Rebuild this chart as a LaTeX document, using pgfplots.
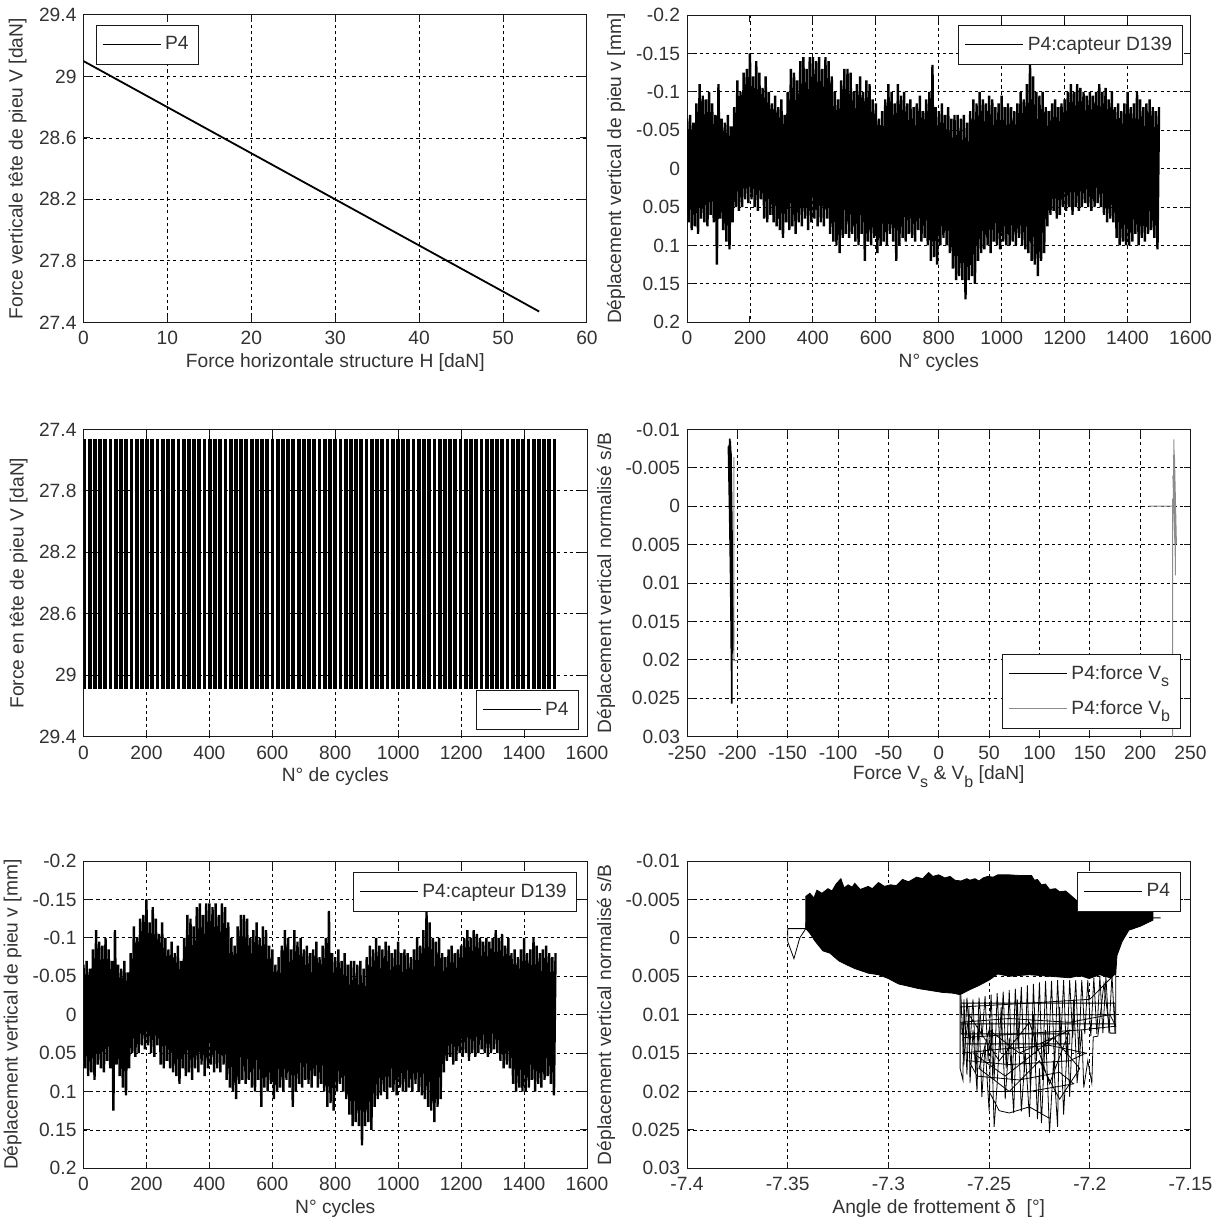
\documentclass[border=0pt]{standalone}
\usepackage{pgfplots}
\pgfplotsset{compat=1.18}
\usepackage{pgfplotstable}
\usepackage{fontspec}
\setmainfont{Liberation Sans}
\definecolor{txt}{gray}{0.2}
\definecolor{axc}{gray}{0.1}
\definecolor{gline}{gray}{0.55}
\newcommand{\sub}[1]{\raisebox{-0.7ex}{\fontsize{8}{8}\selectfont #1}}

\pgfplotstableread{
x y
0 -0.065
5 0.07
10 -0.07
15 0.08
20 -0.06
25 0.075
30 -0.085
35 0.085
40 -0.11
45 0.065
50 -0.095
55 0.07
60 -0.09
65 0.075
70 -0.1
75 0.06
80 -0.085
85 0.07
90 -0.07
95 0.125
100 -0.11
105 0.065
110 -0.065
115 0.08
120 -0.06
125 0.095
130 -0.07
135 0.105
140 -0.055
145 0.07
150 -0.08
155 0.05
160 -0.115
165 0.055
170 -0.1
175 0.05
180 -0.125
185 0.04
190 -0.13
195 0.045
200 -0.15
205 0.04
210 -0.12
215 0.05
220 -0.14
225 0.055
230 -0.125
235 0.04
240 -0.105
245 0.065
250 -0.12
255 0.07
260 -0.1
265 0.06
270 -0.085
275 0.07
280 -0.095
285 0.075
290 -0.08
295 0.08
300 -0.09
305 0.09
310 -0.07
315 0.07
320 -0.1
325 0.08
330 -0.13
335 0.075
340 -0.125
345 0.085
350 -0.115
355 0.07
360 -0.14
365 0.075
370 -0.145
375 0.065
380 -0.13
385 0.08
390 -0.145
395 0.07
400 -0.145
405 0.065
410 -0.14
415 0.075
420 -0.145
425 0.07
430 -0.13
435 0.075
440 -0.145
445 0.065
450 -0.14
455 0.085
460 -0.12
465 0.095
470 -0.1
475 0.1
480 -0.09
485 0.11
490 -0.115
495 0.09
500 -0.13
505 0.085
510 -0.13
515 0.09
520 -0.125
525 0.085
530 -0.1
535 0.095
540 -0.11
545 0.1
550 -0.12
555 0.085
560 -0.1
565 0.12
570 -0.115
575 0.095
580 -0.11
585 0.1
590 -0.09
595 0.09
600 -0.085
605 0.11
610 -0.065
615 0.1
620 -0.075
625 0.095
630 -0.09
635 0.1
640 -0.11
645 0.085
650 -0.1
655 0.095
660 -0.085
665 0.12
670 -0.11
675 0.1
680 -0.095
685 0.09
690 -0.1
695 0.095
700 -0.085
705 0.085
710 -0.09
715 0.09
720 -0.08
725 0.095
730 -0.085
735 0.08
740 -0.095
745 0.095
750 -0.075
755 0.09
760 -0.09
765 0.1
770 -0.1
775 0.12
780 -0.135
785 0.115
790 -0.08
795 0.125
800 -0.075
805 0.1
810 -0.085
815 0.09
820 -0.07
825 0.1
830 -0.08
835 0.11
840 -0.065
845 0.13
850 -0.07
855 0.145
860 -0.07
865 0.14
870 -0.065
875 0.145
880 -0.07
885 0.17
890 -0.06
895 0.145
900 -0.075
905 0.14
910 -0.09
915 0.15
920 -0.085
925 0.12
930 -0.1
935 0.11
940 -0.09
945 0.105
950 -0.085
955 0.1
960 -0.095
965 0.11
970 -0.09
975 0.095
980 -0.08
985 0.1
990 -0.085
995 0.105
1000 -0.095
1005 0.095
1010 -0.08
1015 0.1
1020 -0.085
1025 0.1
1030 -0.08
1035 0.095
1040 -0.075
1045 0.1
1050 -0.085
1055 0.09
1060 -0.1
1065 0.1
1070 -0.09
1075 0.105
1080 -0.11
1085 0.11
1090 -0.135
1095 0.12
1100 -0.12
1105 0.125
1110 -0.1
1115 0.14
1120 -0.095
1125 0.12
1130 -0.1
1135 0.11
1140 -0.08
1145 0.075
1150 -0.075
1155 0.06
1160 -0.085
1165 0.055
1170 -0.09
1175 0.065
1180 -0.08
1185 0.06
1190 -0.085
1195 0.05
1200 -0.09
1205 0.055
1210 -0.1
1215 0.05
1220 -0.11
1225 0.06
1230 -0.1
1235 0.05
1240 -0.11
1245 0.055
1250 -0.105
1255 0.05
1260 -0.1
1265 0.045
1270 -0.095
1275 0.05
1280 -0.1
1285 0.055
1290 -0.095
1295 0.05
1300 -0.1
1305 0.045
1310 -0.11
1315 0.05
1320 -0.1
1325 0.06
1330 -0.105
1335 0.07
1340 -0.09
1345 0.065
1350 -0.1
1355 0.07
1360 -0.08
1365 0.09
1370 -0.085
1375 0.1
1380 -0.075
1385 0.095
1390 -0.085
1395 0.1
1400 -0.1
1405 0.1
1410 -0.08
1415 0.095
1420 -0.085
1425 0.085
1430 -0.1
1435 0.1
1440 -0.09
1445 0.09
1450 -0.08
1455 0.095
1460 -0.085
1465 0.085
1470 -0.09
1475 0.08
1480 -0.08
1485 0.09
1490 -0.075
1495 0.105
1500 -0.08
}\dispdata

\pgfplotsset{
 mystyle/.style={
  scale only axis, width=251.75pt, height=153.65pt,
  font=\fontsize{9.6}{11}\selectfont,
  axis line style={axc, line width=0.5pt},
  tick align=inside, major tick length=3.3pt, tick style={axc, line width=0.5pt},
  grid=major, major grid style={black, line width=0.4pt, dash pattern=on 1.6pt off 1.6pt},
  extra x tick style={grid=none}, extra y tick style={grid=none},
  every tick label/.append style={txt},
  label style={txt},
  xlabel style={at={(axis description cs:0.5,-0.13)}, anchor=center},
  xticklabel style={yshift=-1pt},
  scaled ticks=false,
  legend style={draw=axc, fill=white, line width=0.5pt, font=\fontsize{9.6}{11}\selectfont, text=txt, inner xsep=3pt, inner ysep=3.6pt, cells={anchor=west}},
  legend image code/.code={\draw[#1] (0pt,0pt) -- (29pt,0pt);},
  legend image post style={line width=0.5pt},
  unbounded coords=jump,
 },
 cyc/.style={xmin=0,xmax=1600, xtick={200,400,600,800,1000,1200,1400},
  xticklabels={200,400,600,800,1000,1200,1400},
  extra x ticks={0,1600}, extra x tick labels={0,1600}},
 disp/.style={ymin=-0.2,ymax=0.2, y dir=reverse,
  ytick={-0.15,-0.1,-0.05,0,0.05,0.1,0.15},
  yticklabels={-0.15,-0.1,-0.05,0,0.05,0.1,0.15},
  extra y ticks={-0.2,0.2}, extra y tick labels={-0.2,0.2}},
 sb/.style={ymin=-0.01,ymax=0.03, y dir=reverse,
  ytick={-0.005,0,0.005,0.01,0.015,0.02,0.025},
  yticklabels={-0.005,0,0.005,0.01,0.015,0.02,0.025},
  extra y ticks={-0.01,0.03}, extra y tick labels={-0.01,0.03}},
 force/.style={
  ytick={27.8,28.2,28.6,29}, yticklabels={27.8,28.2,28.6,29},
  extra y ticks={27.4,29.4}, extra y tick labels={27.4,29.4}},
}

\begin{document}
\begin{tikzpicture}
\useasboundingbox (0,0) rectangle (612.5pt,611.5pt);

% ---------- Panel 1 ----------
\begin{axis}[mystyle, force, at={(41.75pt,450.35pt)}, anchor=south west,
 xmin=0,xmax=60, ymin=27.4,ymax=29.4,
 xtick={10,20,30,40,50}, xticklabels={10,20,30,40,50},
 extra x ticks={0,60}, extra x tick labels={0,60},
 xlabel={Force horizontale structure H [daN]},
 ylabel={Force verticale tête de pieu V [daN]},
 ylabel style={at={(axis description cs:-0.131,0.5)}, anchor=center},
 legend style={at={(0,1)}, anchor=north west, xshift=6pt, yshift=-5pt}]
\addplot[black, line width=0.9pt] coordinates {(0,29.1) (10,28.8) (20,28.5) (30,28.2) (40,27.9) (50,27.6) (54.3,27.47)};
\legend{P4}
\end{axis}

% ---------- Panel 2 ----------
\begin{axis}[mystyle, cyc, disp, at={(343.5pt,450.35pt)}, anchor=south west,
 xlabel={N° cycles},
 ylabel={Déplacement vertical de pieu v [mm]},
 ylabel style={at={(axis description cs:-0.141,0.5)}, anchor=center},
 legend style={at={(1,1)}, anchor=north east, xshift=-4pt, yshift=-5pt}]
\addplot[black, line width=1.2pt] table[x=x,y=y] {\dispdata};
\legend{P4:capteur D139}
\end{axis}

% ---------- Panel 3 ----------
\begin{axis}[mystyle, cyc, force, at={(41.75pt,243.15pt)}, anchor=south west,
 ymin=27.4,ymax=29.4, y dir=reverse,
 xlabel={N° de cycles},
 ylabel={Force en tête de pieu V [daN]},
 ylabel style={at={(axis description cs:-0.129,0.5)}, anchor=center},
 legend style={at={(1,0)}, anchor=south east, xshift=-4pt, yshift=3.5pt}]
\addplot[black, line width=1.9pt] coordinates {
(3,27.46)(3,29.09)(3,nan)
(19.6,27.46)(19.6,29.09)(19.6,nan)
(36.2,27.46)(36.2,29.09)(36.2,nan)
(52.8,27.46)(52.8,29.09)(52.8,nan)
(69.4,27.46)(69.4,29.09)(69.4,nan)
(86,27.46)(86,29.09)(86,nan)
(102.6,27.46)(102.6,29.09)(102.6,nan)
(119.2,27.46)(119.2,29.09)(119.2,nan)
(135.8,27.46)(135.8,29.09)(135.8,nan)
(152.4,27.46)(152.4,29.09)(152.4,nan)
(169,27.46)(169,29.09)(169,nan)
(185.6,27.46)(185.6,29.09)(185.6,nan)
(202.2,27.46)(202.2,29.09)(202.2,nan)
(218.8,27.46)(218.8,29.09)(218.8,nan)
(235.4,27.46)(235.4,29.09)(235.4,nan)
(252,27.46)(252,29.09)(252,nan)
(268.6,27.46)(268.6,29.09)(268.6,nan)
(285.2,27.46)(285.2,29.09)(285.2,nan)
(301.8,27.46)(301.8,29.09)(301.8,nan)
(318.4,27.46)(318.4,29.09)(318.4,nan)
(335,27.46)(335,29.09)(335,nan)
(351.6,27.46)(351.6,29.09)(351.6,nan)
(368.2,27.46)(368.2,29.09)(368.2,nan)
(384.8,27.46)(384.8,29.09)(384.8,nan)
(401.4,27.46)(401.4,29.09)(401.4,nan)
(418,27.46)(418,29.09)(418,nan)
(434.6,27.46)(434.6,29.09)(434.6,nan)
(451.2,27.46)(451.2,29.09)(451.2,nan)
(467.8,27.46)(467.8,29.09)(467.8,nan)
(484.4,27.46)(484.4,29.09)(484.4,nan)
(501,27.46)(501,29.09)(501,nan)
(517.6,27.46)(517.6,29.09)(517.6,nan)
(534.2,27.46)(534.2,29.09)(534.2,nan)
(550.8,27.46)(550.8,29.09)(550.8,nan)
(567.4,27.46)(567.4,29.09)(567.4,nan)
(584,27.46)(584,29.09)(584,nan)
(600.6,27.46)(600.6,29.09)(600.6,nan)
(617.2,27.46)(617.2,29.09)(617.2,nan)
(633.8,27.46)(633.8,29.09)(633.8,nan)
(650.4,27.46)(650.4,29.09)(650.4,nan)
(667,27.46)(667,29.09)(667,nan)
(683.6,27.46)(683.6,29.09)(683.6,nan)
(700.2,27.46)(700.2,29.09)(700.2,nan)
(716.8,27.46)(716.8,29.09)(716.8,nan)
(733.4,27.46)(733.4,29.09)(733.4,nan)
(750,27.46)(750,29.09)(750,nan)
(766.6,27.46)(766.6,29.09)(766.6,nan)
(783.2,27.46)(783.2,29.09)(783.2,nan)
(799.8,27.46)(799.8,29.09)(799.8,nan)
(816.4,27.46)(816.4,29.09)(816.4,nan)
(833,27.46)(833,29.09)(833,nan)
(849.6,27.46)(849.6,29.09)(849.6,nan)
(866.2,27.46)(866.2,29.09)(866.2,nan)
(882.8,27.46)(882.8,29.09)(882.8,nan)
(899.4,27.46)(899.4,29.09)(899.4,nan)
(916,27.46)(916,29.09)(916,nan)
(932.6,27.46)(932.6,29.09)(932.6,nan)
(949.2,27.46)(949.2,29.09)(949.2,nan)
(965.8,27.46)(965.8,29.09)(965.8,nan)
(982.4,27.46)(982.4,29.09)(982.4,nan)
(999,27.46)(999,29.09)(999,nan)
(1015.6,27.46)(1015.6,29.09)(1015.6,nan)
(1032.2,27.46)(1032.2,29.09)(1032.2,nan)
(1048.8,27.46)(1048.8,29.09)(1048.8,nan)
(1065.4,27.46)(1065.4,29.09)(1065.4,nan)
(1082,27.46)(1082,29.09)(1082,nan)
(1098.6,27.46)(1098.6,29.09)(1098.6,nan)
(1115.2,27.46)(1115.2,29.09)(1115.2,nan)
(1131.8,27.46)(1131.8,29.09)(1131.8,nan)
(1148.4,27.46)(1148.4,29.09)(1148.4,nan)
(1165,27.46)(1165,29.09)(1165,nan)
(1181.6,27.46)(1181.6,29.09)(1181.6,nan)
(1198.2,27.46)(1198.2,29.09)(1198.2,nan)
(1214.8,27.46)(1214.8,29.09)(1214.8,nan)
(1231.4,27.46)(1231.4,29.09)(1231.4,nan)
(1248,27.46)(1248,29.09)(1248,nan)
(1264.6,27.46)(1264.6,29.09)(1264.6,nan)
(1281.2,27.46)(1281.2,29.09)(1281.2,nan)
(1297.8,27.46)(1297.8,29.09)(1297.8,nan)
(1314.4,27.46)(1314.4,29.09)(1314.4,nan)
(1331,27.46)(1331,29.09)(1331,nan)
(1347.6,27.46)(1347.6,29.09)(1347.6,nan)
(1364.2,27.46)(1364.2,29.09)(1364.2,nan)
(1380.8,27.46)(1380.8,29.09)(1380.8,nan)
(1397.4,27.46)(1397.4,29.09)(1397.4,nan)
(1414,27.46)(1414,29.09)(1414,nan)
(1430.6,27.46)(1430.6,29.09)(1430.6,nan)
(1447.2,27.46)(1447.2,29.09)(1447.2,nan)
(1463.8,27.46)(1463.8,29.09)(1463.8,nan)
(1480.4,27.46)(1480.4,29.09)(1480.4,nan)
(1497,27.46)(1497,29.09)
};
\legend{P4}
\end{axis}

% ---------- Panel 4 ----------
\begin{axis}[mystyle, sb, at={(343.5pt,243.15pt)}, anchor=south west,
 xmin=-250,xmax=250,
 xtick={-200,-150,-100,-50,0,50,100,150,200},
 xticklabels={-200,-150,-100,-50,0,50,100,150,200},
 extra x ticks={-250,250}, extra x tick labels={-250,250},
 xlabel={Force V\sub{s} \& V\sub{b} [daN]},
 ylabel={Déplacement vertical normalisé s/B},
 ylabel style={at={(axis description cs:-0.161,0.5)}, anchor=center},
 legend style={at={(1,0)}, anchor=south east, xshift=-5pt, yshift=4pt, row sep=5pt}]
\addplot[black, line width=0.9pt] coordinates {
(-206,0.0185) (-207,-0.0085) (-205.5,0.019) (-208.5,-0.0075) (-204.2,0.0188)
(-207.5,-0.0088) (-205,0.0192) (-208.8,-0.0078) (-204,0.018) (-206.5,-0.0072)
(-205.8,0.0195) (-208,-0.0080) (-204.5,0.0186) (-206.8,-0.0068) (-205.5,0.0257) (-205.5,0.019)};
\addplot[gline, line width=0.5pt] coordinates {
(208.6,0) (233,0) (233.5,-0.0087) (234.5,0.0049) (232.5,-0.0040) (235.5,0.0045)
(233,-0.0067) (236,0.0049) (234,-0.0067) (235,0.0090) (235,0.0030) (232.2,-0.0010) (232.2,0.030)
(232.2,nan) (-203.5,-0.0064) (-203.5,0.0201) (-200,0.0201)};
\legend{P4:force V\sub{s}, P4:force V\sub{b}}
\end{axis}

% ---------- Panel 5 ----------
\begin{axis}[mystyle, cyc, disp, at={(41.75pt,27.35pt)}, anchor=south west,
 xlabel={N° cycles},
 ylabel={Déplacement vertical de pieu v [mm]},
 ylabel style={at={(axis description cs:-0.141,0.5)}, anchor=center},
 legend style={at={(1,1)}, anchor=north east, xshift=-5pt, yshift=-5.5pt}]
\addplot[black, line width=1.2pt] table[x=x,y=y] {\dispdata};
\legend{P4:capteur D139}
\end{axis}

% ---------- Panel 6 ----------
\begin{axis}[mystyle, sb, at={(343.5pt,27.35pt)}, anchor=south west,
 xmin=-7.4,xmax=-7.15,
 xtick={-7.35,-7.3,-7.25,-7.2},
 xticklabels={-7.35,-7.3,-7.25,-7.2},
 extra x ticks={-7.4,-7.15}, extra x tick labels={-7.4,-7.15},
 xlabel={Angle de frottement δ\ \ [°]},
 ylabel={Déplacement vertical normalisé s/B},
 ylabel style={at={(axis description cs:-0.161,0.5)}, anchor=center},
 legend style={at={(1,1)}, anchor=north east, xshift=-5pt, yshift=-5.5pt}]
\addplot[black, fill=black, line width=0.4pt, forget plot] coordinates {
(-7.3410,-0.0012) (-7.3410,-0.0054) (-7.3390,-0.0058) (-7.3370,-0.0052) (-7.3355,-0.0062)
(-7.3330,-0.0058) (-7.3300,-0.0064) (-7.3280,-0.0061) (-7.3260,-0.0070) (-7.3236,-0.0077)
(-7.3220,-0.0065) (-7.3200,-0.0069) (-7.3180,-0.0066) (-7.3167,-0.0071) (-7.3140,-0.0063)
(-7.3100,-0.0067) (-7.3080,-0.0064) (-7.3049,-0.0072) (-7.3020,-0.0067) (-7.2990,-0.0069)
(-7.2960,-0.0068) (-7.2930,-0.0076) (-7.2900,-0.0073) (-7.2860,-0.0079) (-7.2830,-0.0077)
(-7.2800,-0.0085) (-7.2780,-0.0080) (-7.2750,-0.0082) (-7.2720,-0.0078) (-7.2694,-0.0080)
(-7.2670,-0.0075) (-7.2640,-0.0074) (-7.2610,-0.0077) (-7.2595,-0.0075) (-7.2570,-0.0077)
(-7.2550,-0.0074) (-7.2530,-0.0078) (-7.2506,-0.0080) (-7.2480,-0.0079) (-7.2457,-0.0082)
(-7.2400,-0.0082) (-7.2340,-0.0081) (-7.2289,-0.0081) (-7.2275,-0.0075) (-7.2260,-0.0076)
(-7.2240,-0.0069) (-7.2220,-0.0070) (-7.2200,-0.0063) (-7.2170,-0.0064) (-7.2150,-0.0060)
(-7.2120,-0.0061) (-7.2102,-0.0057) (-7.2050,-0.0045) (-7.2000,-0.0036) (-7.1950,-0.0038)
(-7.1865,-0.0040) (-7.1786,-0.0045) (-7.1730,-0.0050) (-7.1687,-0.0047) (-7.1687,-0.0023)
(-7.1750,-0.0015) (-7.1806,-0.0010) (-7.1840,0.0005) (-7.1865,0.0023) (-7.1871,0.0046)
(-7.1900,0.0052) (-7.1950,0.0048) (-7.2003,0.0053) (-7.2050,0.0049) (-7.2100,0.0052)
(-7.2200,0.0050) (-7.2300,0.0048) (-7.2400,0.0050) (-7.2457,0.0047) (-7.2500,0.0055)
(-7.2550,0.0062) (-7.2600,0.0068) (-7.2644,0.0074) (-7.2680,0.0072) (-7.2733,0.0071)
(-7.2780,0.0069) (-7.2852,0.0066) (-7.2900,0.0063) (-7.2950,0.0060) (-7.3000,0.0053)
(-7.3049,0.0048) (-7.3100,0.0046) (-7.3167,0.0040) (-7.3200,0.0036) (-7.3246,0.0030)
(-7.3290,0.0020) (-7.3325,0.0017) (-7.3365,0.0004) (-7.3390,-0.0006) (-7.3410,-0.0012)} -- cycle;
\addplot[black, line width=0.4pt, forget plot] coordinates {
(-7.2640,0.0075) (-7.2625,0.0165) (-7.2610,0.0078) (-7.2595,0.0140) (-7.2580,0.0080)
(-7.2565,0.0175) (-7.2550,0.0078) (-7.2535,0.0130) (-7.2520,0.0076) (-7.2505,0.0160)
(-7.2490,0.0074) (-7.2475,0.0185) (-7.2460,0.0072) (-7.2445,0.0150) (-7.2430,0.0070)
(-7.2415,0.0170) (-7.2400,0.0068) (-7.2385,0.0190) (-7.2370,0.0066) (-7.2355,0.0145)
(-7.2340,0.0064) (-7.2325,0.0175) (-7.2310,0.0062) (-7.2295,0.0200) (-7.2280,0.0060)
(-7.2265,0.0160) (-7.2250,0.0058) (-7.2235,0.0185) (-7.2220,0.0056) (-7.2205,0.0150)
(-7.2190,0.0056) (-7.2175,0.0170) (-7.2160,0.0055) (-7.2145,0.0140) (-7.2130,0.0055)
(-7.2115,0.0160) (-7.2100,0.0055) (-7.2085,0.0130) (-7.2070,0.0055) (-7.2055,0.0150)
(-7.2040,0.0055) (-7.2025,0.0125) (-7.2010,0.0055) (-7.1995,0.0128) (-7.1980,0.0052)
(-7.1965,0.0125) (-7.1950,0.0050) (-7.1935,0.0124) (-7.1920,0.0050) (-7.1905,0.0124)
(-7.1890,0.0048) (-7.1875,0.0124)
(-7.1875,0.0085) (-7.2640,0.0085) (-7.2640,0.0100) (-7.1875,0.0100) (-7.1875,0.0112)
(-7.2640,0.0112) (-7.2640,0.0125) (-7.2100,0.0125) (-7.2100,0.0138) (-7.2620,0.0138)
(-7.2600,0.0100) (-7.2450,0.0160) (-7.2300,0.0110) (-7.2200,0.0190) (-7.2100,0.0120)
(-7.2350,0.0150) (-7.2500,0.0120) (-7.2550,0.0170) (-7.2400,0.0200) (-7.2250,0.0160)
(-7.2150,0.0210) (-7.2050,0.0170) (-7.2180,0.0130) (-7.2420,0.0180) (-7.2580,0.0150)};
\addplot[black, line width=0.4pt] coordinates {
(-7.2644,0.0072) (-7.2644,0.0170) (-7.2630,0.0185) (-7.2625,0.0080) (-7.2610,0.0178)
(-7.2600,0.0090) (-7.2595,0.0189) (-7.2580,0.0120) (-7.2560,0.0200) (-7.2550,0.0100)
(-7.2536,0.0207) (-7.2520,0.0140) (-7.2500,0.0225) (-7.2490,0.0110) (-7.2475,0.0246)
(-7.2460,0.0190) (-7.2440,0.0090) (-7.2420,0.0210) (-7.2400,0.0130) (-7.2378,0.0228)
(-7.2360,0.0080) (-7.2340,0.0226) (-7.2320,0.0150) (-7.2300,0.0233) (-7.2280,0.0100)
(-7.2260,0.0236) (-7.2250,0.0170) (-7.2240,0.0241) (-7.2220,0.0120) (-7.2200,0.0254)
(-7.2180,0.0160) (-7.2160,0.0246) (-7.2150,0.0090) (-7.2130,0.0230) (-7.2110,0.0130)
(-7.2100,0.0207) (-7.2080,0.0080) (-7.2063,0.0189) (-7.2040,0.0120) (-7.2030,0.0195)
(-7.2010,0.0160) (-7.1990,0.0189) (-7.1983,0.0129) (-7.1960,0.0128) (-7.1930,0.0060)
(-7.1900,0.0124) (-7.1871,0.0124) (-7.1871,0.0046)
(-7.2000,0.0080) (-7.2300,0.0085) (-7.2644,0.0090) (-7.2644,0.0110) (-7.2400,0.0105)
(-7.2100,0.0110) (-7.1900,0.0100) (-7.1871,0.0115) (-7.2050,0.0120) (-7.2350,0.0125)
(-7.2630,0.0130) (-7.2630,0.0150) (-7.2450,0.0145) (-7.2200,0.0140) (-7.2020,0.0150)
(-7.2100,0.0160) (-7.2400,0.0165) (-7.2600,0.0160) (-7.2560,0.0180) (-7.2350,0.0185)
(-7.2150,0.0175) (-7.2080,0.0190) (-7.2300,0.0200) (-7.2500,0.0200) (-7.2450,0.0225)
(-7.2400,0.0228) (-7.2300,0.0220) (-7.2200,0.0235) (-7.2200,nan)
(-7.3410,-0.0012) (-7.3500,-0.0012) (-7.3500,0.0005) (-7.3469,0.0027) (-7.3440,0.0000)
(-7.3410,-0.0012) (-7.3410,-0.0020) (-7.3410,nan)
(-7.1687,-0.0026) (-7.1648,-0.0026)};
\legend{P4}
\end{axis}
\end{tikzpicture}
\end{document}
